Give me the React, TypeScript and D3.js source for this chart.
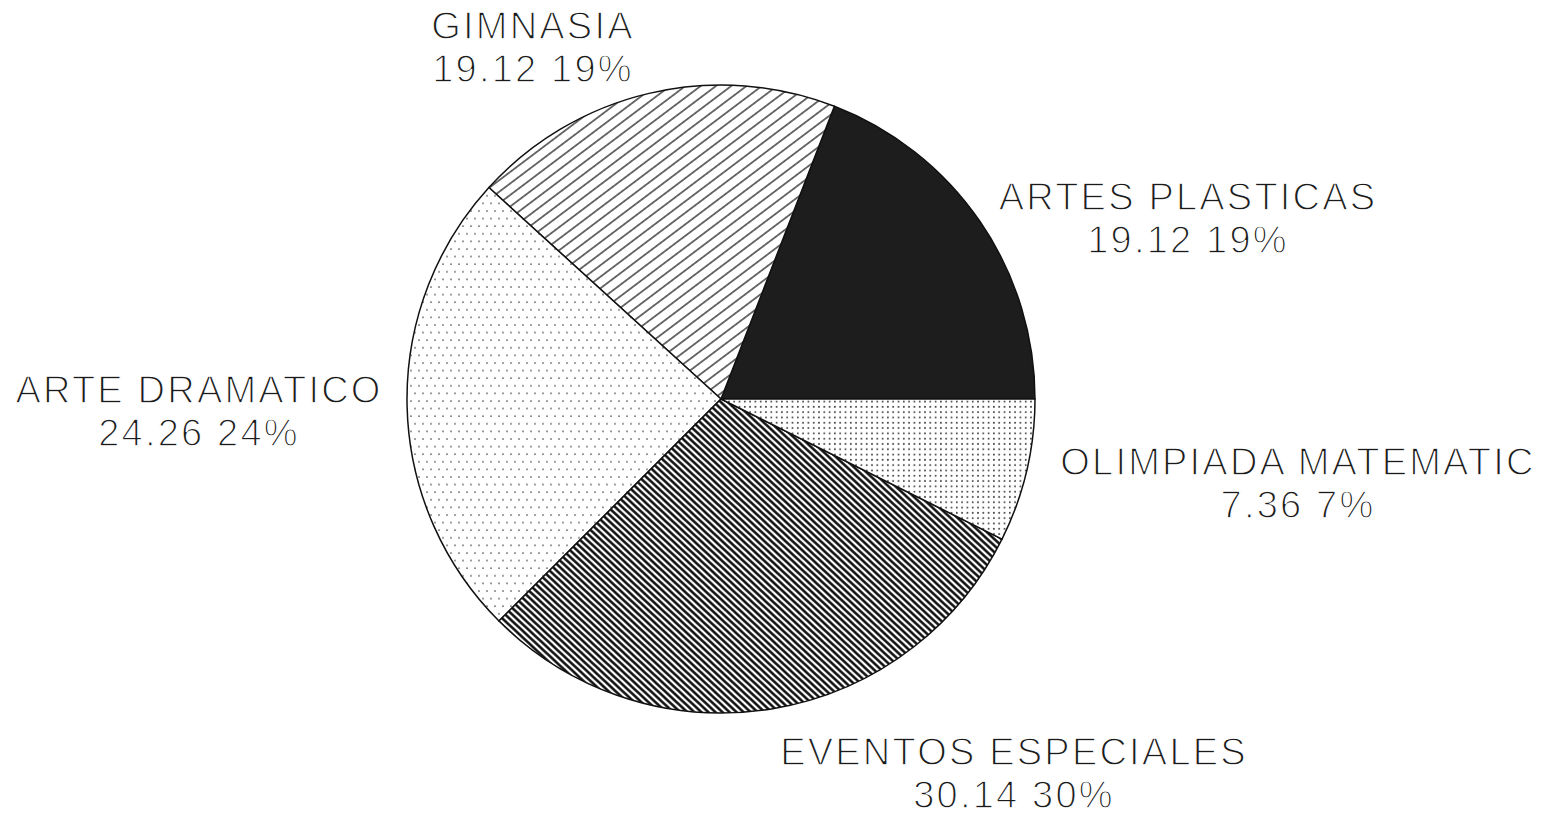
import React from "react";
import * as d3 from "d3";

// slices, counter-clockwise from 3 o'clock
const categories = ["ARTES PLASTICAS", "GIMNASIA", "ARTE DRAMATICO", "EVENTOS ESPECIALES", "OLIMPIADA MATEMATIC"];
const values = [19.12, 19.12, 24.26, 30.14, 7.36];
const fills = ["solid", "hatchLight", "dotsSparse", "hatchDense", "dotsDense"];

// label anchor (center of text block) per category
const labelAnchors: Record<string, [number, number]> = {
  "ARTES PLASTICAS": [1188, 210],
  GIMNASIA: [533, 39],
  "ARTE DRAMATICO": [199, 403],
  "EVENTOS ESPECIALES": [1014, 765],
  "OLIMPIADA MATEMATIC": [1298, 475],
};

const W = 1564;
const H = 816;
const cx = 721;
const cy = 399;
const R = 314;

export default function App() {
  const data = categories.map((c, i) => ({ name: c, value: values[i], fill: fills[i] }));
  const total = d3.sum(values);

  const pie = d3
    .pie<any>()
    .sort(null)
    .value((d) => d.value)
    .startAngle(Math.PI / 2)
    .endAngle(Math.PI / 2 - 2 * Math.PI);

  const arc = d3.arc<any>().innerRadius(0).outerRadius(R);
  const arcs = pie(data);
  const fmt = d3.format(".2f");

  const fillFor = (f: string) => (f === "solid" ? "#1d1d1d" : `url(#${f})`);

  return (
    <svg
      width={W}
      height={H}
      style={{ position: "absolute", left: 0, top: 0, background: "#fff" }}
    >
      <defs>
        <pattern id="hatchLight" patternUnits="userSpaceOnUse" width={20} height={9.2} patternTransform="rotate(-37)">
          <rect width={20} height={9.2} fill="#fff" />
          <line x1={0} x2={20} y1={4.6} y2={4.6} stroke="#111" strokeWidth={1.2} />
        </pattern>
        <pattern id="hatchDense" patternUnits="userSpaceOnUse" width={20} height={4.8} patternTransform="rotate(43)">
          <rect width={20} height={4.8} fill="#fff" />
          <line x1={0} x2={20} y1={2.4} y2={2.4} stroke="#000" strokeWidth={2.4} />
        </pattern>
        <pattern id="dotsSparse" patternUnits="userSpaceOnUse" width={8} height={15.2}>
          <rect width={8} height={15.2} fill="#fff" />
          <circle cx={2} cy={2} r={0.9} fill="#555" />
          <circle cx={6} cy={9.6} r={0.9} fill="#555" />
        </pattern>
        <pattern id="dotsDense" patternUnits="userSpaceOnUse" width={5.3} height={5.3}>
          <rect width={5.3} height={5.3} fill="#fff" />
          <circle cx={2.6} cy={2.6} r={0.95} fill="#444" />
        </pattern>
      </defs>

      <g transform={`translate(${cx},${cy})`}>
        {arcs.map((a, i) => (
          <path
            key={i}
            d={arc(a) as string}
            fill={fillFor(a.data.fill)}
            stroke="#111"
            strokeWidth={1.5}
            strokeLinejoin="round"
          />
        ))}
      </g>

      {data.map((d) => {
        const [lx, ly] = labelAnchors[d.name];
        return (
          <text
            key={d.name}
            x={lx}
            y={ly}
            textAnchor="middle"
            fontFamily="'Liberation Sans', Arial, sans-serif"
            fontSize={38}
            letterSpacing={2.2}
            fill="#1a1a1a"
            stroke="#fff"
            strokeWidth={1.3}
            style={{ paintOrder: "fill" }}
          >
            <tspan x={lx} y={ly}>{d.name}</tspan>
            <tspan x={lx} y={ly + 43}>
              {`${fmt(d.value)} ${Math.round((d.value / total) * 100)}%`}
            </tspan>
          </text>
        );
      })}
    </svg>
  );
}
